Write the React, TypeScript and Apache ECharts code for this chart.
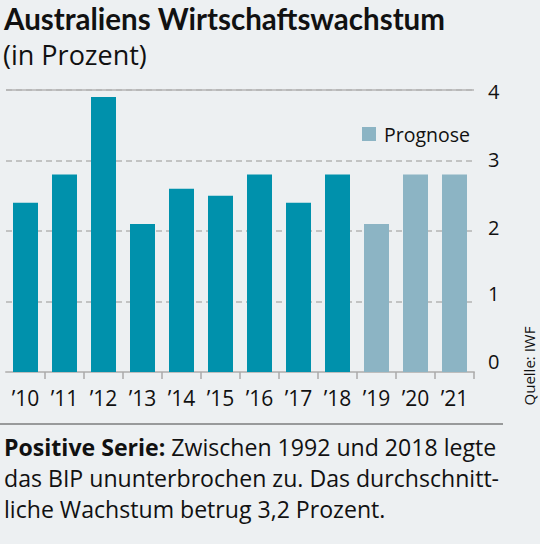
import React, { useEffect, useRef } from "react";
import * as echarts from "echarts";

const years = ["’10", "’11", "’12", "’13", "’14", "’15", "’16", "’17", "’18", "’19", "’20", "’21"];
const actualValues = [2.4, 2.8, 3.9, 2.1, 2.6, 2.5, 2.8, 2.4, 2.8, null, null, null];
const forecastValues = [null, null, null, null, null, null, null, null, null, 2.1, 2.8, 2.8];
const yMin = 0;
const yMax = 4;
const yStep = 1;

const title = "Australiens Wirtschaftswachstum";
const subtitle = "(in Prozent)";
const legendName = "Prognose";
const source = "Quelle: IWF";
const noteBold = "Positive Serie:";
const noteLines = [
  " Zwischen 1992 und 2018 legte",
  "das BIP ununterbrochen zu. Das durchschnitt-",
  "liche Wachstum betrug 3,2 Prozent.",
];

const FONT = "'Open Sans', 'Noto Sans', sans-serif";
const TITLE_FONT = "Lato, 'Noto Sans', sans-serif";
const BG = "#edf0f2";
const TEAL = "#0091ac";
const FORECAST = "#8cb4c4";
const GRID = "#b4b4b4";
const TEXT = "#111111";

// small per-label vertical nudges (px up) to match the reference's label placement
const labelShift: Record<string, number> = { "0": 11, "1": 8, "2": 4, "3": 1.5, "4": -1.5 };

export default function App() {
  const ref = useRef<HTMLDivElement>(null);
  useEffect(() => {
    if (!ref.current) return;
    const chart = echarts.init(ref.current, undefined, { renderer: "svg" });
    const rich: Record<string, any> = {};
    Object.keys(labelShift).forEach((k) => {
      const s = labelShift[k];
      rich["l" + k] = {
        fontSize: 20,
        fontFamily: FONT,
        color: TEXT,
        padding: s >= 0 ? [0, 0, s * 2, 0] : [-s * 2, 0, 0, 0],
      };
    });
    chart.setOption({
      animation: false,
      backgroundColor: BG,
      grid: { left: 6, right: 66, top: 90, bottom: 172, containLabel: false },
      legend: {
        show: true,
        data: [{ name: legendName, icon: "rect" }],
        left: 357,
        top: 119,
        itemWidth: 14,
        itemHeight: 14,
        itemGap: 10,
        textStyle: { fontSize: 19.5, fontFamily: FONT, color: TEXT, padding: [0, 0, 0, 3] },
        selectedMode: false,
      },
      xAxis: {
        type: "category",
        data: years,
        axisLine: { show: true, lineStyle: { color: "#bdbdbd", width: 2 } },
        axisTick: {
          show: true,
          length: 7,
          interval: (i: number) => i !== 0,
          lineStyle: { color: "#aaaaaa", width: 1.5 },
        },
        axisLabel: { fontSize: 21, fontFamily: FONT, color: TEXT, margin: 15 },
      },
      yAxis: {
        type: "value",
        position: "right",
        min: yMin,
        max: yMax,
        interval: yStep,
        axisLine: { show: false },
        axisTick: { show: false },
        splitLine: { show: true, lineStyle: { color: GRID, type: [6, 4], width: 1.5 } },
        axisLabel: {
          margin: 14,
          fontSize: 20,
          fontFamily: FONT,
          color: TEXT,
          formatter: (v: number) => `{l${v}|${v}}`,
          rich,
        },
      },
      series: [
        {
          name: "Ist",
          type: "bar",
          data: actualValues,
          barWidth: 25,
          barGap: "-100%",
          itemStyle: { color: TEAL },
          markLine: {
            silent: true,
            symbol: "none",
            label: { show: false },
            lineStyle: { color: GRID, type: "solid", width: 1.5 },
            data: [{ yAxis: yMax }],
          },
        },
        {
          name: legendName,
          type: "bar",
          data: forecastValues,
          barWidth: 25,
          barGap: "-100%",
          itemStyle: { color: FORECAST },
        },
      ],
      graphic: [
        {
          type: "text",
          x: 4,
          y: 3,
          style: { text: title, font: `bold 29.5px ${TITLE_FONT}`, fill: TEXT, verticalAlign: "top" },
        },
        {
          type: "text",
          x: 3,
          y: 41,
          style: { text: subtitle, font: `27px ${FONT}`, fill: TEXT, verticalAlign: "top" },
        },
        {
          type: "line",
          shape: { x1: 0, y1: 424, x2: 503, y2: 424 },
          style: { stroke: "#444444", lineWidth: 1 },
        },
        {
          type: "text",
          x: 4,
          y: 431,
          style: {
            text: `{b|${noteBold}}${noteLines[0]}\n${noteLines[1]}\n${noteLines[2]}`,
            font: `23.1px ${FONT}`,
            fill: TEXT,
            lineHeight: 31.3,
            verticalAlign: "top",
            rich: {
              b: { fontWeight: "bold", fontSize: 23.1, fontFamily: FONT, fill: TEXT, lineHeight: 31.3 },
            },
          },
        },
        {
          type: "text",
          x: 529,
          y: 366,
          rotation: Math.PI / 2,
          style: {
            text: source,
            font: `15px ${FONT}`,
            fill: TEXT,
            align: "center",
            verticalAlign: "middle",
          },
        },
      ],
    });
    return () => chart.dispose();
  }, []);
  return (
    <div
      ref={ref}
      style={{ position: "absolute", left: 0, top: 0, width: 540, height: 544, background: BG }}
    />
  );
}
